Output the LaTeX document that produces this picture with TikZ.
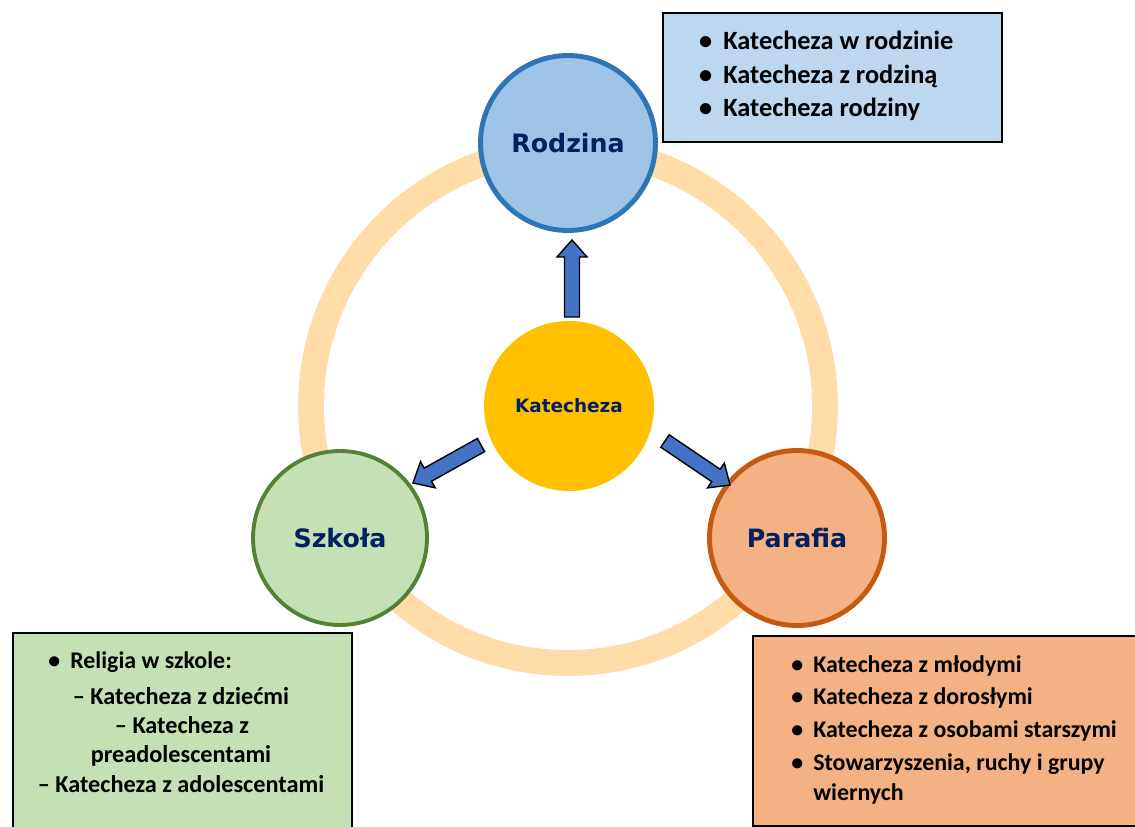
\documentclass[tikz,border=0pt]{standalone}
\usepackage{fontspec}
\setmainfont{Carlito}
\newfontfamily\vfont{DejaVu Sans}
\usetikzlibrary{calc}
\definecolor{ringc}{HTML}{FFDCA8}
\definecolor{rodfill}{HTML}{9DC3E6}
\definecolor{rodline}{HTML}{2E75B6}
\definecolor{rodbox}{HTML}{BDD7EE}
\definecolor{szfill}{HTML}{C5E0B4}
\definecolor{szline}{HTML}{548235}
\definecolor{pafill}{HTML}{F4B183}
\definecolor{paline}{HTML}{C55A11}
\definecolor{katfill}{HTML}{FFC000}
\definecolor{arrfill}{HTML}{4472C4}
\definecolor{navy}{HTML}{002060}
\newcommand\blockarrow[2]{%
  \coordinate (bh) at ($(#2)!0.34cm!(#1)$);
  \draw[barrow] ($(#1)!0.15cm!90:(#2)$) -- ($(bh)!0.15cm!90:(#2)$) -- ($(bh)!0.3cm!90:(#2)$) -- (#2)
    -- ($(bh)!0.3cm!-90:(#2)$) -- ($(bh)!0.15cm!-90:(#2)$) -- ($(#1)!0.15cm!-90:(#2)$) -- cycle;}
\tikzset{
  circ/.style={circle, inner sep=0pt, text=navy, font=\vfont\bfseries\fontsize{14.4}{16}\selectfont},
  boxst/.style={draw=black, line width=1.1pt},
  barrow/.style={draw=black, fill=arrfill, line width=0.8pt, line join=miter},
  itemT/.style={anchor=base west, inner sep=0pt, font=\bfseries\fontsize{15}{18}\selectfont},
  itemB/.style={anchor=base west, inner sep=0pt, font=\bfseries\fontsize{13.6}{16}\selectfont},
  itemC/.style={anchor=base, inner sep=0pt, font=\bfseries\fontsize{13.8}{16}\selectfont},
}
\begin{document}
\begin{tikzpicture}[x=0.02cm,y=-0.02cm]
\useasboundingbox (0,0) rectangle (1135,827);
\clip (0,0) rectangle (1135,827);
\fill[white] (0,0) rectangle (1135,827);
% ring
\draw[ringc, line width=14.7pt] (568,406) circle[radius=257];
% circles
\node[circ, fill=rodfill, draw=rodline, line width=2.8pt, minimum size=3.5cm] (rod) at (568,143) {Rodzina};
\node[circ, fill=szfill, draw=szline, line width=2.2pt, minimum size=3.48cm] (szk) at (340,538) {Szkoła};
\node[circ, fill=pafill, draw=paline, line width=2.8pt, minimum size=3.5cm] (par) at (797,538) {Parafia};
\node[circ, fill=katfill, minimum size=3.4cm, font=\vfont\bfseries\fontsize{10.5}{12}\selectfont] (kat) at (569,406) {Katecheza};
% boxes
\draw[boxst, fill=rodbox] (663,13) rectangle (1002,142);
\draw[boxst, fill=szfill] (13,633) rectangle (352,840);
\draw[boxst, fill=pafill] (753,636) rectangle (1145,826);
% top-right text
\node[itemT] (t1) at (723,50) {\llap{•\hspace{0.22cm}}Katecheza w rodzinie};
\node[itemT] (t2) at (723,84) {\llap{•\hspace{0.22cm}}Katecheza z rodziną};
\node[itemT] (t3) at (723,117) {\llap{•\hspace{0.22cm}}Katecheza rodziny};
% bottom-left text
\node[itemB] (l1) at (70,668) {\llap{•\hspace{0.2cm}}Religia w szkole:};
\node[itemC] (l2) at (181,704) {– Katecheza z dziećmi};
\node[itemC] (l3) at (182,733) {– Katecheza z};
\node[itemC] (l4) at (181,762) {preadolescentami};
\node[itemC] (l5) at (181,792) {– Katecheza z adolescentami};
% bottom-right text
\node[itemB] (r1) at (813,672) {\llap{•\hspace{0.2cm}}Katecheza z młodymi};
\node[itemB] (r2) at (813,704) {\llap{•\hspace{0.2cm}}Katecheza z dorosłymi};
\node[itemB] (r3) at (813,737) {\llap{•\hspace{0.2cm}}Katecheza z osobami starszymi};
\node[itemB] (r4) at (813,770) {\llap{•\hspace{0.2cm}}Stowarzyszenia, ruchy i grupy};
\node[itemB] (r5) at (813,800) {wiernych};
% arrows
\coordinate (upA) at (572,317);
\coordinate (upB) at (572,240);
\coordinate (lfA) at (481,445);
\coordinate (lfB) at (413,483);
\coordinate (rtA) at (665,441);
\coordinate (rtB) at (730,485);
\blockarrow{upA}{upB}
\blockarrow{lfA}{lfB}
\blockarrow{rtA}{rtB}
\end{tikzpicture}
\end{document}
